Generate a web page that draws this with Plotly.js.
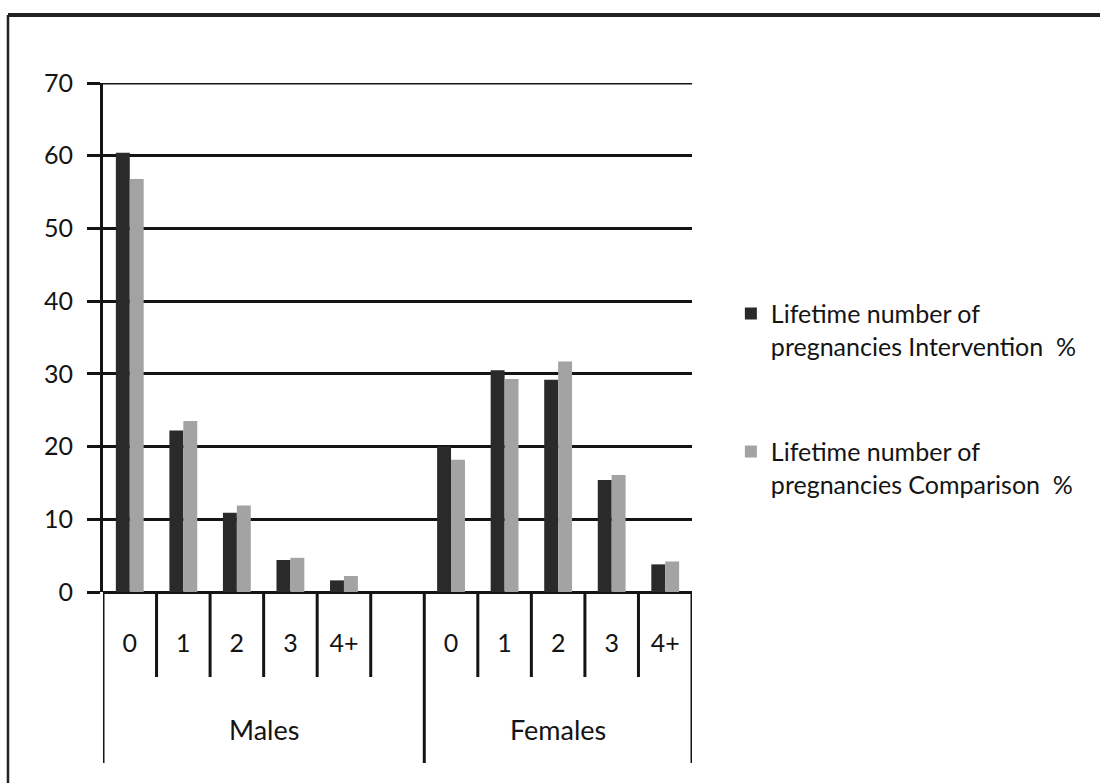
<!DOCTYPE html>
<html>
<head>
<meta charset="utf-8">
<script src="https://cdn.plot.ly/plotly-3.0.1.min.js"></script>
<style>
html,body{margin:0;padding:0;background:#fff;}
#chart{width:1100px;height:783px;}
</style>
</head>
<body>
<div id="chart"></div>
<script>
// ---- data ----
var groups = ["Males", "Females"];
var categoryLabels = ["0", "1", "2", "3", "4+", "", "0", "1", "2", "3", "4+"];
var groupOfCategory = ["Males", "Males", "Males", "Males", "Males", "Males", "Females", "Females", "Females", "Females", "Females"];
var interventionValues = [60.4, 22.2, 10.9, 4.4, 1.6, null, 20.0, 30.5, 29.2, 15.4, 3.8];
var comparisonValues = [56.8, 23.5, 11.9, 4.7, 2.2, null, 18.2, 29.3, 31.7, 16.1, 4.2];
var seriesNames = ["Lifetime number of<br>pregnancies Intervention  %", "Lifetime number of<br>pregnancies Comparison  %"];
var yTicks = [0, 10, 20, 30, 40, 50, 60, 70];

var positions = categoryLabels.map(function(_, i){ return i; });
var FONT = "Lato, 'Open Sans', sans-serif";
var INK = "#141414";

var traces = [
  {type: "bar", x: positions, y: interventionValues, name: seriesNames[0],
   marker: {color: "#2a2a2a", line: {width: 0}}, legendgroup: "a"},
  {type: "bar", x: positions, y: comparisonValues, name: seriesNames[1],
   marker: {color: "#a3a3a3", line: {width: 0}}, legendgroup: "b"}
];

var shapes = [];
var n = categoryLabels.length;
// top gridline (at the range edge)
shapes.push({type: "line", xref: "paper", yref: "y", x0: -13/589, x1: 1, y0: yTicks[yTicks.length-1], y1: yTicks[yTicks.length-1],
  line: {color: INK, width: 3}});
// separators below the category axis
for (var b = 0; b <= n; b++) {
  var xb = b - 0.5;
  var isGroupEdge = (b === 0 || b === n || (b > 0 && b < n && groupOfCategory[b] !== groupOfCategory[b-1]));
  shapes.push({type: "line", xref: "x", yref: "paper", x0: xb, x1: xb,
    y0: 0, y1: isGroupEdge ? -0.336 : -0.167,
    line: {color: INK, width: 3}});
}
// outer frame (scanned figure border)
shapes.push({type: "line", xref: "paper", yref: "paper", x0: -0.1613, x1: 1.70, y0: 1.1336, y1: 1.1336,
  line: {color: "#222", width: 4}});
shapes.push({type: "line", xref: "paper", yref: "paper", x0: -0.1613, x1: -0.1613, y0: 1.1336, y1: -0.40,
  line: {color: "#222", width: 2.5}});

var annotations = groups.map(function(g){
  var idx = [];
  groupOfCategory.forEach(function(gg, i){ if (gg === g) idx.push(i); });
  var center = (idx[0] + idx[idx.length-1]) / 2;
  return {xref: "x", yref: "paper", x: center, y: -0.27, text: g, showarrow: false,
    font: {family: FONT, size: 27, color: INK}, xanchor: "center", yanchor: "middle"};
});

var layout = {
  width: 1100, height: 783,
  margin: {l: 103, r: 408, t: 83, b: 191},
  paper_bgcolor: "#fff", plot_bgcolor: "#fff",
  barmode: "group", bargap: 0.48, bargroupgap: 0,
  showlegend: true,
  legend: {x: 1.066, y: 0.592, xanchor: "left", yanchor: "top", valign: "top",
    font: {family: FONT, size: 25, color: INK}, tracegroupgap: 70, itemwidth: 30,
    bgcolor: "rgba(0,0,0,0)"},
  xaxis: {type: "linear", range: [-0.5, n - 0.5], tickmode: "array", tickvals: positions, ticktext: categoryLabels,
    showgrid: false, zeroline: false, showline: false, ticks: "", ticklabelstandoff: 34,
    tickfont: {family: FONT, size: 25, color: INK}, fixedrange: true},
  yaxis: {range: [0, 70], tickmode: "array", tickvals: yTicks, showgrid: true, gridcolor: INK, gridwidth: 3,
    zeroline: true, zerolinecolor: INK, zerolinewidth: 3,
    showline: true, linecolor: INK, linewidth: 3, ticks: "outside", ticklen: 13, tickwidth: 3, tickcolor: INK,
    ticklabelstandoff: 9, tickfont: {family: FONT, size: 25, color: INK}, fixedrange: true},
  shapes: shapes,
  annotations: annotations
};

Plotly.newPlot("chart", traces, layout, {displayModeBar: false, staticPlot: true});
</script>
</body>
</html>
